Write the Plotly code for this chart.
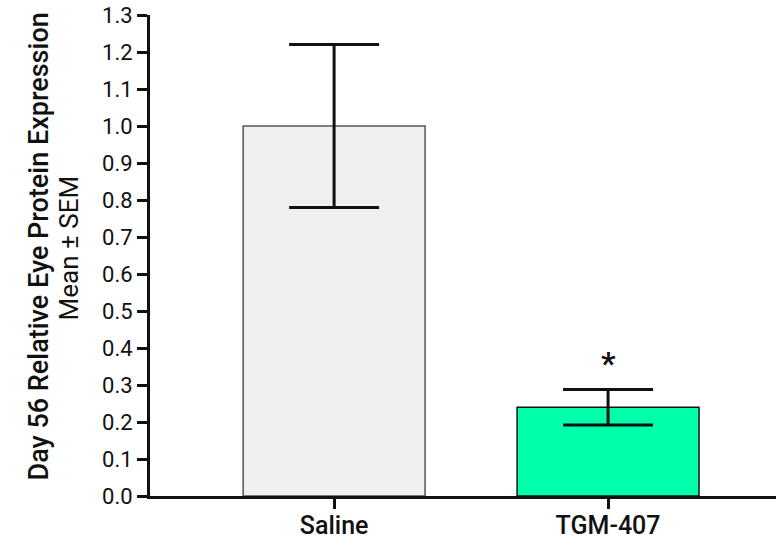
import plotly.graph_objects as go

categories = ["Saline", "TGM-407"]
means = [1.0, 0.24]
sems = [0.22, 0.048]
fill_colors = ["#eff0ef", "#00ffab"]
line_colors = ["#555555", "#111111"]
y_ticks = [round(i * 0.1, 1) for i in range(14)]
x_pos = [0, 1]

fig = go.Figure()
fig.add_trace(go.Bar(
    x=x_pos, y=means, width=0.664,
    marker=dict(color=fill_colors, line=dict(color=line_colors, width=1.5)),
    error_y=dict(type="data", array=sems, visible=True, color="#111111", thickness=3, width=45),
    showlegend=False,
))

fig.add_annotation(x=1, y=0.36, text="*", showarrow=False, xref="x", yref="y",
                   font=dict(family="Roboto", size=32, color="#111111", weight="bold"))

fig.add_annotation(xref="paper", yref="paper", x=0, y=0.5, xanchor="center", yanchor="middle",
                   xshift=-112, yshift=9, text="Day 56 Relative Eye Protein Expression",
                   textangle=-90, showarrow=False,
                   font=dict(family="Roboto", size=27, color="#111111", weight=500))
fig.add_annotation(xref="paper", yref="paper", x=0, y=0.5, xanchor="center", yanchor="middle",
                   xshift=-82, yshift=7, text="Mean ± SEM",
                   textangle=-90, showarrow=False,
                   font=dict(family="Roboto", size=26, color="#111111"))

fig.update_layout(
    width=776, height=544,
    margin=dict(l=150, r=0, t=15, b=48),
    paper_bgcolor="white", plot_bgcolor="white",
    xaxis=dict(range=[-0.672, 1.613], tickvals=x_pos, ticktext=categories,
               showline=True, linecolor="#111111", linewidth=3,
               ticks="outside", ticklen=10, tickwidth=3, tickcolor="#111111",
               showgrid=False, zeroline=False, automargin=False,
               ticklabelstandoff=-5,
               tickfont=dict(family="Roboto", size=25, color="#111111", weight=500)),
    yaxis=dict(range=[0, 1.3], tickvals=y_ticks, tickformat=".1f",
               showline=True, linecolor="#111111", linewidth=3,
               ticks="outside", ticklen=10, tickwidth=3, tickcolor="#111111",
               showgrid=False, zeroline=False, automargin=False,
               tickfont=dict(family="Roboto", size=22, color="#111111")),
)

# remove the browser's default 8px body margin so the figure fills the window
fig.write_html("out.html", config={"displayModeBar": False},
               post_script="document.body.style.margin='0';")
